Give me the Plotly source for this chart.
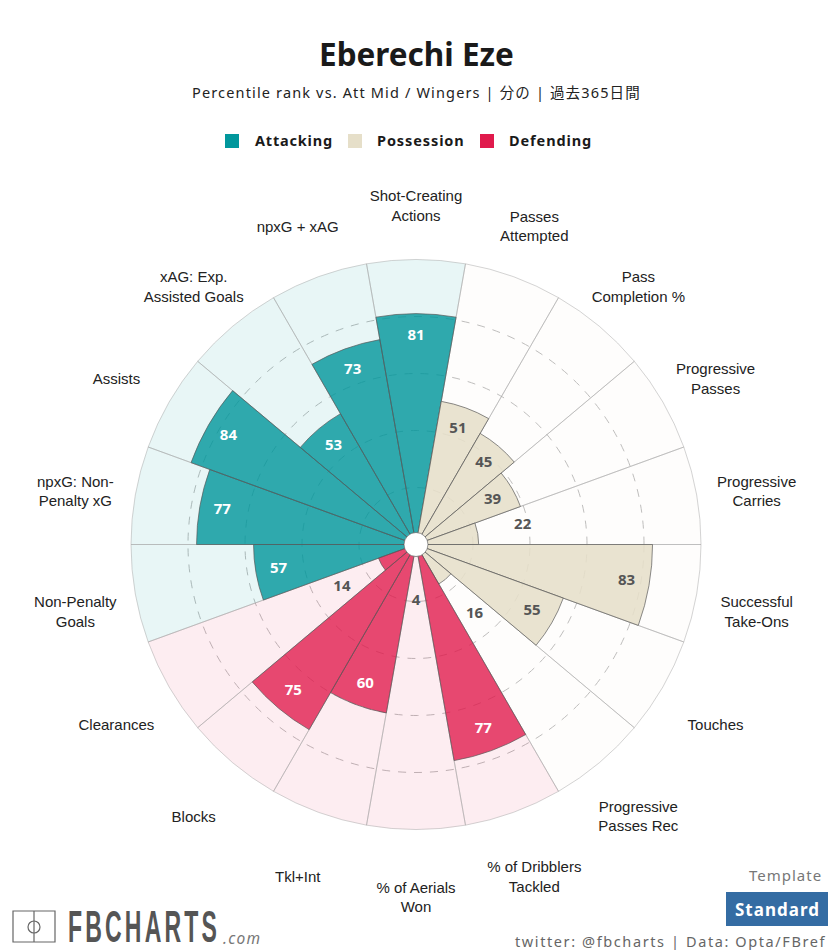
import plotly.graph_objects as go

W, H = 830, 950
CX, CY = 416, 544.5
RADIUS = 342  # px from centre to r = 120
LABEL_CY = 553  # category labels sit a little lower than the bars
LABEL_RADIUS = 360

attacking = ["Non-Penalty<br>Goals", "npxG: Non-<br>Penalty xG", "Assists", "xAG: Exp.<br>Assisted Goals", "npxG + xAG", "Shot-Creating<br>Actions"]
attacking_vals = [57, 77, 84, 53, 73, 81]
attacking_theta = [260, 280, 300, 320, 340, 0]

possession = ["Passes<br>Attempted", "Pass<br>Completion %", "Progressive<br>Passes", "Progressive<br>Carries", "Successful<br>Take-Ons", "Touches", "Progressive<br>Passes Rec"]
possession_vals = [51, 45, 39, 22, 83, 55, 16]
possession_theta = [20, 40, 60, 80, 100, 120, 140]

defending = ["% of Dribblers<br>Tackled", "% of Aerials<br>Won", "Tkl+Int", "Blocks", "Clearances"]
defending_vals = [77, 4, 60, 75, 14]
defending_theta = [160, 180, 200, 220, 240]

grid_vals = [20, 40, 60, 80]
FULL = 100
LABEL_R = 115.3

TEAL, BEIGE, RED = "#01979c", "#e6dfc9", "#e01a4c"
BODY_FONT = "Noto Sans, Noto Sans CJK JP, sans-serif"


def spaced(text, px):
    return f'<span style="letter-spacing:{px}px">{text}</span>'


def px_x(x):
    return x / W


def px_y(y):
    return 1 - y / H


def note(text, x, y, size, color, anchor="center", bold=False, family=BODY_FONT):
    if bold:
        text = f"<b>{text}</b>"
    return dict(text=text, x=px_x(x), y=px_y(y), xref="paper", yref="paper", xanchor=anchor, yanchor="middle",
                showarrow=False, font=dict(size=size, color=color, family=family))


fig = go.Figure()

groups = [
    (attacking, attacking_vals, attacking_theta, "rgba(0,150,155,0.09)", "rgba(0,150,155,0.8)", "white"),
    (possession, possession_vals, possession_theta, "rgba(230,223,201,0.06)", "rgba(230,223,201,0.88)", "#555555"),
    (defending, defending_vals, defending_theta, "rgba(224,26,76,0.08)", "rgba(224,26,76,0.78)", "white"),
]

# fondo de cada sector
for names, vals, theta, tint, fill, txt in groups:
    fig.add_trace(go.Barpolar(
        r=[FULL] * len(vals), theta=theta, width=20,
        marker=dict(color=tint, line=dict(color="rgba(170,170,170,0.5)", width=1)),
        hoverinfo="skip", showlegend=False,
    ))

# valores
for names, vals, theta, tint, fill, txt in groups:
    fig.add_trace(go.Barpolar(
        r=vals, theta=theta, width=20,
        marker=dict(color=fill, line=dict(color="rgba(90,90,90,0.7)", width=1)),
        showlegend=False,
    ))

# numeros y etiquetas
for names, vals, theta, tint, fill, txt in groups:
    fig.add_trace(go.Scatterpolar(
        r=[v - 8 if v >= 30 else v + 16 for v in vals], theta=theta, mode="text",
        text=[str(v) for v in vals],
        textfont=dict(size=15, family=BODY_FONT, weight="bold",
                      color=[txt if v >= 30 else "#555555" for v in vals]),
        cliponaxis=False, hoverinfo="skip", showlegend=False,
    ))
    fig.add_trace(go.Scatterpolar(
        r=[LABEL_R] * len(vals), theta=theta, mode="text", text=names, subplot="polar2",
        textfont=dict(size=15, family="Liberation Sans, Arial, sans-serif", color="#222222"),
        cliponaxis=False, hoverinfo="skip", showlegend=False,
    ))

# circulo central
fig.add_trace(go.Scatterpolar(
    r=[0], theta=[0], mode="markers",
    marker=dict(size=24, color="white", line=dict(color="rgba(80,80,80,0.6)", width=1)),
    hoverinfo="skip", showlegend=False,
))

annotations = [
    note("Eberechi Eze", 416, 53.5, 31.5, "#1a1a1a", bold=True),
    note(spaced("Percentile rank vs. Att Mid / Wingers | 分の | 過去365日間", 1.15), 416, 92, 14.5, "#222222"),
    note(spaced("Attacking", 0.8), 253, 140, 14.5, "#1a1a1a", "left", True),
    note(spaced("Possession", 0.9), 375, 140, 14.5, "#1a1a1a", "left", True),
    note(spaced("Defending", 0.9), 507, 140, 14.5, "#1a1a1a", "left", True),
    note(spaced("Template", 1.0), 824, 875, 15, "#777777", "right"),
    note(spaced("Standard", 1.0), 777, 909, 17, "white", bold=True),
    note(spaced("twitter: @fbcharts | Data: Opta/FBref", 1.6), 828, 941, 14.5, "#666666", "right"),
    note(spaced("FBCHARTS", 6), 66, 926, 44, "#555555", "left", True, "Liberation Sans, sans-serif"),
    note(spaced("<i>.com</i>", 1.3), 221, 938, 15.5, "#777777", "left"),
]


def box(x0, y0, x1, y1, fill=None, line=None, kind="rect"):
    return dict(type=kind, xref="paper", yref="paper", x0=px_x(x0), x1=px_x(x1), y0=px_y(y0), y1=px_y(y1),
                fillcolor=fill or "rgba(0,0,0,0)", line=dict(color=line or "rgba(0,0,0,0)", width=1.2))


shapes = [
    box(225, 134, 239, 148, TEAL),
    box(348, 134, 362, 148, BEIGE),
    box(480, 134, 494, 148, RED),
    box(726, 892, 828, 926, "#346ca3"),
    box(13, 911, 55, 942, None, "#666666"),
    box(34, 911, 34, 942, None, "#666666", "line"),
    box(28, 921, 40, 933, None, "#666666", "circle"),
]

fig.update_layout(
    width=W, height=H, autosize=False,
    margin=dict(l=0, r=0, t=0, b=0),
    paper_bgcolor="white", plot_bgcolor="white",
    showlegend=False,
    annotations=annotations, shapes=shapes,
    polar=dict(
        domain=dict(x=[px_x(CX - RADIUS), px_x(CX + RADIUS)], y=[px_y(CY + RADIUS), px_y(CY - RADIUS)]),
        bgcolor="rgba(0,0,0,0)",
        barmode="overlay",
        radialaxis=dict(range=[0, 120], tickvals=grid_vals, showticklabels=False, ticks="", showline=False,
                        gridcolor="#bdbdbd", griddash="8px,8px", gridwidth=1),
        angularaxis=dict(rotation=90, direction="clockwise", showgrid=False, showline=False,
                         showticklabels=False, ticks=""),
    ),
    polar2=dict(
        domain=dict(x=[px_x(CX - LABEL_RADIUS), px_x(CX + LABEL_RADIUS)],
                    y=[px_y(LABEL_CY + LABEL_RADIUS), px_y(LABEL_CY - LABEL_RADIUS)]),
        bgcolor="rgba(0,0,0,0)",
        radialaxis=dict(range=[0, 120], visible=False),
        angularaxis=dict(rotation=90, direction="clockwise", visible=False),
    ),
)

# el logo va en fuente condensada: no hay ninguna instalada, se estrecha el texto
post = """
document.body.style.margin='0';document.body.style.overflow='hidden';
var logo=[...document.querySelectorAll('.annotation-text')].find(e=>e.textContent=='FBCHARTS');
if(logo){var b=logo.getBBox();logo.setAttribute('transform','translate('+b.x+' 0) scale('+(152/b.width)+' 1) translate('+(-b.x)+' 0)');}
"""
fig.write_html("out.html", config={"displayModeBar": False}, post_script=post)
